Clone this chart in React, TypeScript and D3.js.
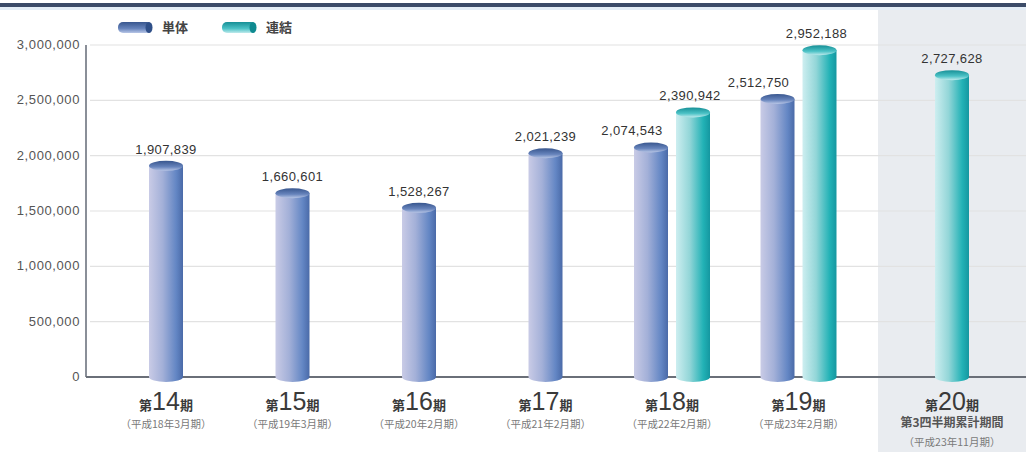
import { useEffect, useRef } from "react";
import * as d3 from "d3";

const periodNumbers = ["14", "15", "16", "17", "18", "19", "20"];
const subLabels = [
  "（平成18年3月期）",
  "（平成19年3月期）",
  "（平成20年2月期）",
  "（平成21年2月期）",
  "（平成22年2月期）",
  "（平成23年2月期）",
  "（平成23年11月期）",
];
const forecastNote = "第3四半期累計期間";
const seriesNames = ["単体", "連結"];
const singleValues: (number | null)[] = [1907839, 1660601, 1528267, 2021239, 2074543, 2512750, null];
const consolidatedValues: (number | null)[] = [null, null, null, null, 2390942, 2952188, 2727628];
const yTicks = [0, 500000, 1000000, 1500000, 2000000, 2500000, 3000000];

const W = 1026;
const H = 452;
const FONT = "'Noto Sans CJK JP', 'Noto Sans', sans-serif";
const NUM_FONT = "'Liberation Sans', Arial, sans-serif";

export default function App() {
  const svgRef = useRef<SVGSVGElement>(null);

  useEffect(() => {
    const svg = svgRef.current;
    if (!svg) return;
    const sel = d3.select(svg);
    sel.selectAll("*").remove();

    const plotLeft = 86;
    const plotRight = W;
    const shadeLeft = 878;
    const y0 = 377;
    const yTop = 45;

    const y = d3.scaleLinear().domain([0, 3000000]).range([y0, yTop]);

    // main six periods share a band scale, the forecast sits in the shaded panel
    const x = d3
      .scaleBand<string>()
      .domain(periodNumbers.slice(0, 6))
      .range([102.75, 861.75]);
    const centerOf = (i: number) =>
      i < 6 ? (x(periodNumbers[i]) || 0) + x.bandwidth() / 2 : (shadeLeft + W) / 2;

    const sub = d3.scaleBand<string>().domain(seriesNames).range([-42, 42]);

    const defs = sel.append("defs");
    const addGrad = (id: string, stops: [number, string][], vertical = false) => {
      const g = defs
        .append("linearGradient")
        .attr("id", id)
        .attr("x1", 0)
        .attr("y1", 0)
        .attr("x2", vertical ? 0 : 1)
        .attr("y2", vertical ? 1 : 0);
      stops.forEach(([o, c]) => g.append("stop").attr("offset", o).attr("stop-color", c));
    };
    addGrad("blueBody", [
      [0, "#c9cbe6"],
      [0.4, "#a3b0d8"],
      [0.8, "#6386c4"],
      [1, "#4a6aa8"],
    ]);
    addGrad("blueTop", [
      [0, "#38568e"],
      [0.6, "#6784bc"],
      [1, "#b8c6e6"],
    ], true);
    addGrad("tealBody", [
      [0, "#cdeef0"],
      [0.4, "#93d6d8"],
      [0.8, "#22b2b6"],
      [1, "#1597a0"],
    ]);
    addGrad("tealTop", [
      [0, "#168f96"],
      [0.6, "#4cc2c6"],
      [1, "#bfeaec"],
    ], true);

    // background
    sel.append("rect").attr("width", W).attr("height", H).attr("fill", "#ffffff");
    sel
      .append("rect")
      .attr("x", shadeLeft)
      .attr("y", 9)
      .attr("width", W - shadeLeft)
      .attr("height", H - 9)
      .attr("fill", "#e9ecf0");
    sel.append("rect").attr("x", 0).attr("y", 7).attr("width", W).attr("height", 3).attr("fill", "#e3edf6");
    sel.append("rect").attr("x", 0).attr("y", 3).attr("width", W).attr("height", 4).attr("fill", "#3b4b68");

    // legend
    const legend = sel.append("g").attr("transform", "translate(118,27)");
    seriesNames.forEach((name, i) => {
      const g = legend.append("g").attr("transform", `translate(${i * 104},0)`);
      g.append("rect")
        .attr("x", 0)
        .attr("y", -5)
        .attr("width", 34)
        .attr("height", 11)
        .attr("rx", 5)
        .attr("fill", i === 0 ? "url(#blueTop)" : "url(#tealTop)");
      g.append("ellipse")
        .attr("cx", 31)
        .attr("cy", 0.5)
        .attr("rx", 3.5)
        .attr("ry", 5.5)
        .attr("fill", i === 0 ? "#2f4f88" : "#0f8a90");
      g.append("text")
        .attr("x", 44)
        .attr("y", 5)
        .attr("font-family", FONT)
        .attr("font-size", 13)
        .attr("font-weight", 700)
        .attr("fill", "#444")
        .text(name);
    });

    // grid lines
    sel
      .append("g")
      .selectAll("line")
      .data(yTicks.slice(1))
      .enter()
      .append("line")
      .attr("x1", plotLeft + 4)
      .attr("x2", plotRight)
      .attr("y1", (d) => y(d))
      .attr("y2", (d) => y(d))
      .attr("stroke", "#e2e2e2")
      .attr("stroke-width", 1.2);

    // y axis labels
    sel
      .append("g")
      .selectAll("text")
      .data(yTicks)
      .enter()
      .append("text")
      .attr("x", plotLeft - 6)
      .attr("y", (d) => y(d) + 4)
      .attr("text-anchor", "end")
      .attr("font-family", NUM_FONT)
      .attr("font-size", 13)
      .attr("letter-spacing", 0.6)
      .attr("fill", "#555")
      .text((d) => d3.format(",")(d));

    // axis lines
    sel
      .append("line")
      .attr("x1", plotLeft)
      .attr("x2", plotLeft)
      .attr("y1", yTop)
      .attr("y2", y0)
      .attr("stroke", "#8a8f98")
      .attr("stroke-width", 2);
    sel
      .append("line")
      .attr("x1", plotLeft)
      .attr("x2", plotRight)
      .attr("y1", y0)
      .attr("y2", y0)
      .attr("stroke", "#6a6f78")
      .attr("stroke-width", 2);

    // bars
    const barW = 34;
    const ry = 5;
    const drawCylinder = (cx: number, value: number, kind: "blue" | "teal", labelShift: number) => {
      const g = sel.append("g");
      const xl = cx - barW / 2;
      const xr = cx + barW / 2;
      const yt = y(value);
      g.append("path")
        .attr(
          "d",
          `M${xl},${yt} L${xl},${y0} A${barW / 2},${ry} 0 0 0 ${xr},${y0} L${xr},${yt} Z`
        )
        .attr("fill", `url(#${kind}Body)`);
      g.append("ellipse")
        .attr("cx", cx)
        .attr("cy", yt)
        .attr("rx", barW / 2)
        .attr("ry", ry)
        .attr("fill", `url(#${kind}Top)`);
      g.append("text")
        .attr("x", cx + labelShift)
        .attr("y", yt - 12)
        .attr("text-anchor", "middle")
        .attr("font-family", NUM_FONT)
        .attr("font-size", 13)
        .attr("letter-spacing", 0.4)
        .attr("fill", "#333")
        .text(d3.format(",")(value));
    };

    periodNumbers.forEach((_, i) => {
      const c = centerOf(i);
      const s = singleValues[i];
      const k = consolidatedValues[i];
      const both = s != null && k != null;
      if (s != null)
        drawCylinder(both ? c + (sub("単体") || 0) + sub.bandwidth() / 2 : c, s, "blue", both ? -19 : 0);
      if (k != null)
        drawCylinder(both ? c + (sub("連結") || 0) + sub.bandwidth() / 2 : c, k, "teal", both ? -3 : 0);
    });

    // category labels
    periodNumbers.forEach((num, i) => {
      const c = centerOf(i);
      const t = sel
        .append("text")
        .attr("x", c)
        .attr("y", 410)
        .attr("text-anchor", "middle")
        .attr("fill", "#3a3a3a");
      t.append("tspan").attr("font-family", FONT).attr("font-size", 13).attr("font-weight", 700).text("第");
      t.append("tspan")
        .attr("font-family", "'Liberation Sans Narrow', 'Liberation Sans', sans-serif")
        .attr("font-size", 25)
        .text(num);
      t.append("tspan").attr("font-family", FONT).attr("font-size", 13).attr("font-weight", 700).text("期");

      if (i < 6) {
        sel
          .append("text")
          .attr("x", c)
          .attr("y", 428)
          .attr("text-anchor", "middle")
          .attr("font-family", FONT)
          .attr("font-size", 10.5)
          .attr("fill", "#7a7a7a")
          .text(subLabels[i]);
      } else {
        sel
          .append("text")
          .attr("x", c)
          .attr("y", 427)
          .attr("text-anchor", "middle")
          .attr("font-family", FONT)
          .attr("font-size", 12)
          .attr("font-weight", 700)
          .attr("fill", "#555")
          .text(forecastNote);
        sel
          .append("text")
          .attr("x", c)
          .attr("y", 446)
          .attr("text-anchor", "middle")
          .attr("font-family", FONT)
          .attr("font-size", 10.5)
          .attr("fill", "#7a7a7a")
          .text(subLabels[i]);
      }
    });
  }, []);

  return (
    <div style={{ position: "absolute", left: 0, top: 0, width: W, height: H }}>
      <svg ref={svgRef} width={W} height={H} style={{ display: "block" }} />
    </div>
  );
}
